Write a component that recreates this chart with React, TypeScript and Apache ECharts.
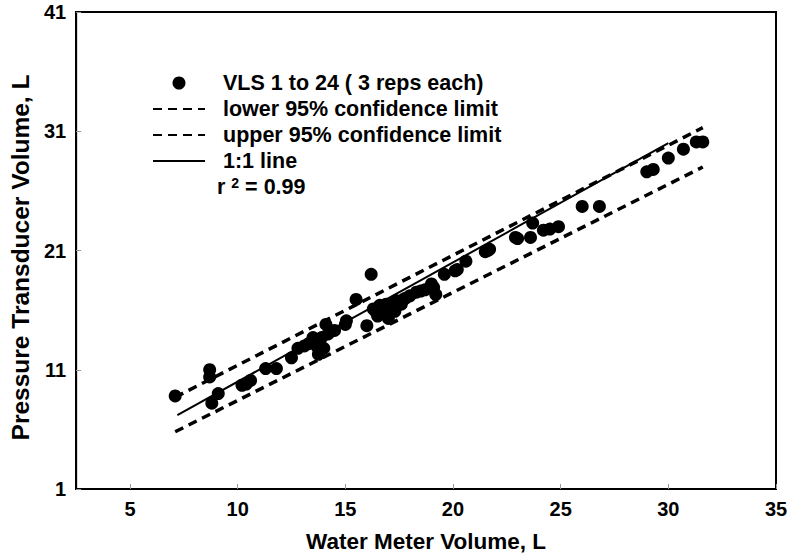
import React, { useEffect, useRef } from "react";
import * as echarts from "echarts";

const xTicks = [5, 10, 15, 20, 25, 30, 35];
const yTicks = [1, 11, 21, 31, 41];

// Water meter volume (L) vs pressure transducer volume (L), VLS 1-24, 3 reps each
const vlsPoints: [number, number][] = [
  [7.1, 8.8], [8.7, 11.0], [8.7, 10.4], [8.8, 8.2], [9.1, 9.0],
  [10.2, 9.7], [10.4, 9.8], [10.6, 10.1], [11.3, 11.1], [11.8, 11.1],
  [12.5, 12.0], [12.8, 12.8], [13.1, 13.0], [13.3, 13.2], [13.5, 13.7],
  [13.6, 13.4], [13.7, 12.9], [13.75, 12.3], [13.8, 13.1], [13.9, 13.7],
  [14.0, 12.8], [14.1, 14.8], [14.2, 14.0], [14.5, 14.3], [15.0, 14.8],
  [15.05, 15.1], [15.5, 16.9], [16.0, 14.7], [16.2, 19.0], [16.3, 16.1],
  [16.4, 15.9], [16.5, 15.5], [16.6, 16.4], [16.7, 16.0], [16.8, 15.7],
  [16.9, 16.5], [17.0, 15.3], [17.1, 16.2], [17.3, 15.9], [17.35, 16.8],
  [17.6, 16.5], [17.7, 16.9], [17.8, 17.0], [18.0, 17.2], [18.3, 17.5],
  [18.5, 17.6], [18.7, 17.7], [19.0, 18.2], [19.1, 17.9], [19.2, 17.3],
  [19.6, 19.0], [20.1, 19.3], [20.2, 19.4], [20.6, 20.1], [21.5, 20.9],
  [21.6, 21.0], [21.7, 21.1], [22.9, 22.1], [23.0, 22.0], [23.6, 22.1],
  [23.7, 23.3], [24.2, 22.7], [24.5, 22.8], [24.9, 23.0], [26.0, 24.7],
  [26.8, 24.7], [29.0, 27.6], [29.3, 27.8], [30.0, 28.75], [30.7, 29.5],
  [31.3, 30.1], [31.6, 30.1],
];

const lower95: [number, number][] = [[7.1, 5.8], [31.6, 28.0]];
const upper95: [number, number][] = [[7.1, 8.7], [31.6, 31.3]];
const oneToOne: [number, number][] = [[7.2, 7.2], [30.0, 30.0]];

const seriesNames = [
  "VLS 1 to 24 ( 3 reps each)",
  "lower 95% confidence limit",
  "upper 95% confidence limit",
  "1:1 line",
];

const FONT = "'Liberation Sans', Arial, Helvetica, sans-serif";

export default function App() {
  const ref = useRef<HTMLDivElement>(null);

  useEffect(() => {
    if (!ref.current) return;
    const chart = echarts.init(ref.current, undefined, { renderer: "svg" });
    const dash = { type: [9, 6] as number[], width: 3.5, color: "#000" };
    chart.setOption({
      animation: false,
      backgroundColor: "#fff",
      textStyle: { fontFamily: FONT },
      grid: {
        left: 68,
        right: 15,
        top: 12,
        bottom: 65,
        show: true,
        borderColor: "#000",
        borderWidth: 2,
        backgroundColor: "transparent",
      },
      legend: {
        orient: "vertical",
        left: 147,
        top: 67,
        itemWidth: 52,
        itemHeight: 13,
        itemGap: 4,
        selectedMode: false,
        data: [
          { name: seriesNames[0] },
          { name: seriesNames[1], itemStyle: { opacity: 0 } },
          { name: seriesNames[2], itemStyle: { opacity: 0 } },
          { name: seriesNames[3], itemStyle: { opacity: 0 } },
        ],
        textStyle: {
          fontFamily: FONT,
          fontWeight: "bold",
          fontSize: 21.5,
          color: "#000",
          padding: [0, 0, 0, 13],
        },
      },
      xAxis: {
        type: "value",
        min: 2.5,
        max: 35,
        name: "Water Meter Volume, L",
        nameLocation: "middle",
        nameGap: 41,
        nameTextStyle: { fontFamily: FONT, fontWeight: "bold", fontSize: 22.5, color: "#000" },
        axisLine: { onZero: false, lineStyle: { color: "#000", width: 2 } },
        axisTick: { inside: true, length: 5, customValues: xTicks, lineStyle: { color: "#999" } },
        axisLabel: {
          customValues: xTicks,
          fontFamily: FONT,
          fontWeight: "bold",
          fontSize: 20,
          color: "#000",
          margin: 10,
        },
        splitLine: { show: false },
      },
      yAxis: {
        type: "value",
        min: yTicks[0],
        max: yTicks[yTicks.length - 1],
        interval: 10,
        name: "Pressure Transducer Volume, L",
        nameLocation: "middle",
        nameGap: 37,
        nameTextStyle: {
          fontFamily: FONT,
          fontWeight: "bold",
          fontSize: 24.5,
          color: "#000",
          padding: [0, 14, 0, 0],
        },
        axisLine: { onZero: false, lineStyle: { color: "#000", width: 2 } },
        axisTick: { inside: true, length: 5, lineStyle: { color: "#999" } },
        axisLabel: {
          fontFamily: FONT,
          fontWeight: "bold",
          fontSize: 20,
          color: "#000",
          margin: 10,
        },
        splitLine: { show: false },
      },
      graphic: [
        {
          type: "text",
          left: 217,
          top: 176,
          style: {
            text: "{b|r }{s|2}{b| = 0.99}",
            rich: {
              b: { fontFamily: FONT, fontWeight: "bold", fontSize: 21.5, fill: "#000", lineHeight: 22, verticalAlign: "bottom" },
              s: { fontFamily: FONT, fontWeight: "bold", fontSize: 14, fill: "#000", lineHeight: 22, verticalAlign: "top" },
            },
          },
        },
      ],
      series: [
        {
          name: seriesNames[0],
          type: "scatter",
          data: vlsPoints,
          symbol: "circle",
          symbolSize: 13,
          itemStyle: { color: "#000", opacity: 1 },
          z: 5,
        },
        {
          name: seriesNames[1],
          type: "line",
          data: lower95,
          symbol: "none",
          lineStyle: dash,
          itemStyle: { color: "#000" },
          z: 3,
        },
        {
          name: seriesNames[2],
          type: "line",
          data: upper95,
          symbol: "none",
          lineStyle: dash,
          itemStyle: { color: "#000" },
          z: 3,
        },
        {
          name: seriesNames[3],
          type: "line",
          data: oneToOne,
          symbol: "none",
          lineStyle: { type: "solid", width: 2, color: "#000" },
          itemStyle: { color: "#000" },
          z: 3,
        },
      ],
    });
    return () => chart.dispose();
  }, []);

  return <div ref={ref} style={{ width: 791, height: 558, position: "absolute", left: 0, top: 0 }} />;
}
